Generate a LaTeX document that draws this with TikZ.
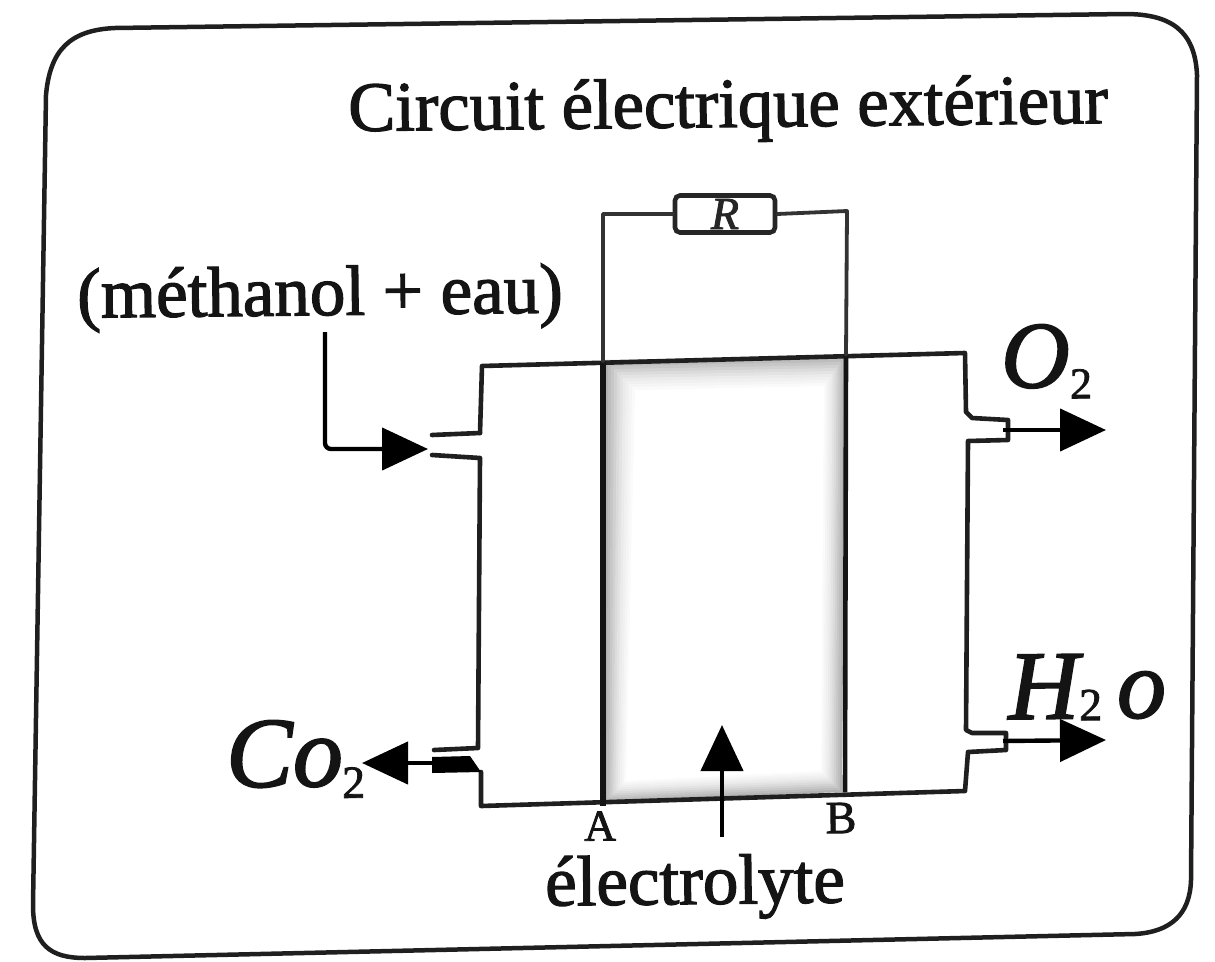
\documentclass[tikz,border=0pt]{standalone}
\usepackage{fontspec}
\setmainfont{Liberation Serif}[FakeBold=1.8]
\usetikzlibrary{arrows.meta}
\newcommand{\fsz}[1]{\fontsize{#1}{#1}\selectfont}
\newcommand{\lowtwo}[2][-0.12em]{\raisebox{#1}{\fsz{#2}\upshape 2}}
\tikzset{
  x=1pt,y=-1pt,
  wall/.style={line width=4.6pt,black!88,line join=round,line cap=round},
  thin wall/.style={line width=3.8pt,black!80,line join=round,line cap=round},
  electrode/.style={line width=6pt,black!92,line cap=butt},
  flow/.style={line width=4.4pt,black,-{Triangle[length=46pt,width=42pt]}},
  lbl/.style={inner sep=0pt,text=black!92,rotate=0.6},
  resist/.style={draw,line width=4.6pt,black!85,rounded corners=5pt,minimum width=100pt,minimum height=37pt,inner sep=0pt}
}
\begin{document}
\begin{tikzpicture}
\useasboundingbox (0,0) rectangle (1215,961);
% outer frame
\draw[line width=4.5pt,black!88,line join=round]
  (46,95) .. controls (50,50) and (70,30) .. (115,28)
  -- (1125,14) .. controls (1170,14) and (1195,30) .. (1197,75)
  -- (1191,880) .. controls (1190,915) and (1170,932) .. (1135,934)
  -- (85,958) .. controls (50,958) and (33,945) .. (33,905) -- cycle;
% electrolyte shading
\foreach \i/\c in {0/30,3/26,6/22,9/18,12/14,15/11,18/8,21/6,24/4,27/2,30/0}
  \fill[black!\c!white] (605+\i,360+\i) -- (845-0.7*\i,356+\i) -- (842-0.7*\i,792-0.7*\i) -- (605+0.7*\i,802-0.7*\i) -- cycle;
% key points
\coordinate (tl) at (482,366);
\coordinate (tr) at (965,353);
\coordinate (bl) at (481,806);
\coordinate (br) at (965,791);
\coordinate (at) at (603,361);
\coordinate (ab) at (603,806);
\coordinate (bt) at (846,355);
\coordinate (bb) at (845,792);
\coordinate (wa) at (603,214);
\coordinate (wb) at (847,211);
% cell
\draw[wall] (480,433) -- (tl) -- (tr) -- (966,412) -- (972,418) -- (1008,420) -- (1008,440) -- (968,441) -- (966,730) -- (972,733) -- (1006,733) -- (1006,750) -- (968,752) -- (br) -- (bl) -- (481,772);
\draw[wall] (432,435) -- (480,433);
\draw[wall] (432,455) -- (480,458) -- (478,748) -- (434,750);
\fill[black] (432,757) -- (470,756) -- (481,772) -- (432,773) -- cycle;
% electrodes
\draw[electrode] (at) -- (ab);
\draw[electrode,line width=4.6pt] (bt) -- (bb);
% resistor and wires
\node[resist] (R) at (725,214) {\fsz{46}\itshape R};
\draw[thin wall] (at) -- (wa) -- (R.west);
\draw[thin wall] (R.east) -- (wb) -- (bt);
% labels
\node[lbl] (title) at (728,110) {\fsz{70.5}Circuit électrique extérieur};
\node[lbl] (meth) at (320,298) {\fsz{71}(méthanol + eau)};
\node[lbl,anchor=west] (co) at (226,760) {\fsz{100}\itshape Co\hspace{-1pt}\lowtwo{46}};
\node[lbl,anchor=west] (ox) at (1001,362) {\fsz{95}\itshape O\lowtwo{44}};
\node[lbl,anchor=west] (eau) at (1008,688) {\fsz{98}\itshape H\lowtwo[-0.02em]{46}\hspace{15pt}o};
\node[lbl] (A) at (600,826) {\fsz{44}A};
\node[lbl] (B) at (841,818) {\fsz{46}B};
\node[lbl] (elec) at (695,887) {\fsz{71}électrolyte};
% arrows
\coordinate (mstart) at (325,332);
\coordinate (mbend) at (325,449);
\coordinate (min) at (428,449);
\draw[flow,rounded corners=6pt] (mstart) -- (mbend) -- (min);
\coordinate (cs) at (435,763);
\coordinate (ce) at (362,763);
\draw[flow] (cs) -- (ce);
\coordinate (os) at (1003,430);
\coordinate (oe) at (1106,430);
\draw[flow] (os) -- (oe);
\coordinate (hs) at (1003,741);
\coordinate (he) at (1106,740);
\draw[flow] (hs) -- (he);
\coordinate (es) at (722,837);
\coordinate (ee) at (722,725);
\draw[flow] (es) -- (ee);
\end{tikzpicture}
\end{document}
